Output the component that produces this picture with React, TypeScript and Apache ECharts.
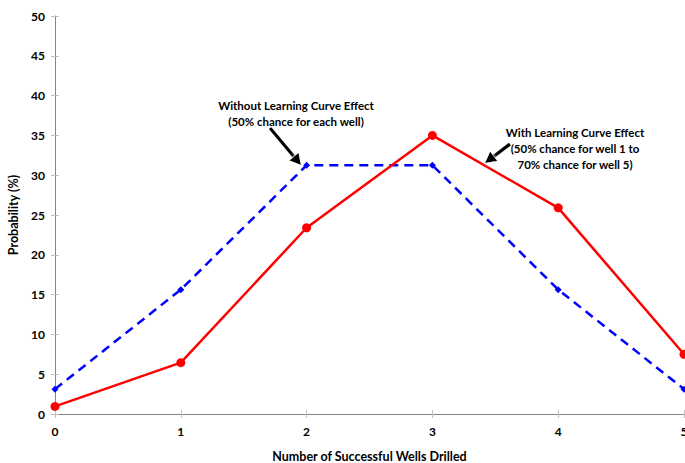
import React, { useEffect, useRef } from "react";
import * as echarts from "echarts";

// Number of successful wells (x) and probability in percent (y)
const wells = [0, 1, 2, 3, 4, 5];
const withoutLearning = [3.125, 15.625, 31.25, 31.25, 15.625, 3.125];
const withLearning = [0.95, 6.45, 23.4, 35.0, 25.9, 7.5];

const xTitle = "Number of Successful Wells Drilled";
const yTitle = "Probability (%)";
const noteWithout = ["Without Learning Curve Effect", "(50% chance for each well)"];
const noteWith = ["With Learning Curve Effect", "(50% chance for well 1 to", "70% chance for well 5)"];

const FONT = "Lato, 'Open Sans', sans-serif";

function arrow(x1: number, y1: number, x2: number, y2: number) {
  const ang = Math.atan2(y2 - y1, x2 - x1);
  const len = 11;
  const w = 6;
  const bx = x2 - len * Math.cos(ang);
  const by = y2 - len * Math.sin(ang);
  const px = -Math.sin(ang) * w;
  const py = Math.cos(ang) * w;
  const head = [
    [x2, y2],
    [bx + px, by + py],
    [bx - px, by - py],
  ];
  return [
    {
      type: "line",
      shape: { x1, y1, x2: bx, y2: by },
      style: { stroke: "#000", lineWidth: 3.5, shadowBlur: 4, shadowColor: "rgba(255,255,255,1)" },
      z: 100,
    },
    {
      type: "polygon",
      shape: { points: head },
      style: { fill: "#000", shadowBlur: 4, shadowColor: "rgba(255,255,255,1)" },
      z: 100,
    },
  ];
}

function note(lines: string[], cx: number, top: number) {
  return lines.map((t, i) => ({
    type: "text",
    x: cx,
    y: top + i * 16,
    style: {
      text: t,
      fill: "#000",
      font: `bold 11.5px ${FONT}`,
      align: "center",
      verticalAlign: "middle",
    },
    z: 100,
  }));
}

export default function App() {
  const ref = useRef<HTMLDivElement>(null);

  useEffect(() => {
    if (!ref.current) return;
    const chart = echarts.init(ref.current, null, { renderer: "svg" });
    const axisLine = { lineStyle: { color: "#868686", width: 1 } };
    const tickStyle = { color: "#bfbfbf", width: 1 };
    const labelStyle = { color: "#000", fontWeight: "bold" as const, fontSize: 12, fontFamily: FONT };

    chart.setOption({
      animation: false,
      backgroundColor: "#fff",
      grid: { left: 55, right: 1, top: 16, bottom: 49, containLabel: false, outerBoundsMode: "none" },
      xAxis: [
        {
          type: "value",
          min: 0,
          max: 5,
          interval: 1,
          name: xTitle,
          nameLocation: "middle",
          nameGap: 35,
          nameTextStyle: { color: "#000", fontWeight: "bold", fontSize: 12.5, fontFamily: FONT, lineHeight: 14 },
          axisLine,
          axisTick: { show: true, length: 4, lineStyle: tickStyle },
          axisLabel: { ...labelStyle, margin: 11 },
          splitLine: { show: false },
        },
        {
          type: "value",
          min: 0,
          max: 5,
          interval: 1,
          position: "bottom",
          axisLine: { show: false },
          axisTick: { show: true, inside: true, length: 4, lineStyle: tickStyle },
          axisLabel: { show: false },
          splitLine: { show: false },
        },
      ],
      yAxis: [
        {
          type: "value",
          min: 0,
          max: 50,
          interval: 5,
          name: yTitle,
          nameLocation: "middle",
          nameGap: 32,
          nameTextStyle: { color: "#000", fontWeight: "bold", fontSize: 12.5, fontFamily: FONT },
          axisLine: { show: true, ...axisLine },
          axisTick: { show: true, length: 4, lineStyle: tickStyle },
          axisLabel: { ...labelStyle, margin: 10 },
          splitLine: { show: false },
        },
        {
          type: "value",
          min: 0,
          max: 50,
          interval: 5,
          position: "left",
          axisLine: { show: false },
          axisTick: { show: true, inside: true, length: 4, lineStyle: tickStyle },
          axisLabel: { show: false },
          splitLine: { show: false },
        },
      ],
      series: [
        {
          name: "Without Learning Curve Effect",
          type: "line",
          data: wells.map((x, i) => [x, withoutLearning[i]]),
          symbol: "diamond",
          symbolSize: 7,
          itemStyle: { color: "#0000ff" },
          lineStyle: { color: "#0000ff", width: 2.5, type: [9, 6] },
          clip: false,
          z: 3,
        },
        {
          name: "With Learning Curve Effect",
          type: "line",
          data: wells.map((x, i) => [x, withLearning[i]]),
          symbol: "circle",
          symbolSize: 9,
          itemStyle: { color: "#ff0000" },
          lineStyle: { color: "#ff0000", width: 2.5 },
          clip: false,
          z: 4,
        },
      ],
      graphic: [
        ...note(noteWithout, 296, 105),
        ...arrow(270, 128, 301, 165),
        ...note(noteWith, 575, 132),
        ...arrow(510, 144, 485, 163),
      ],
    });
    return () => chart.dispose();
  }, []);

  return <div ref={ref} style={{ width: 685, height: 463, position: "absolute", left: 0, top: 0 }} />;
}
